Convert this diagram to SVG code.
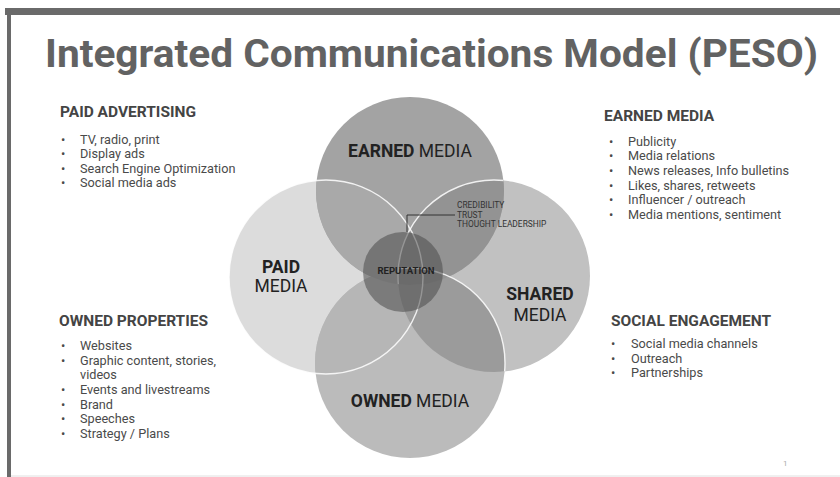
<svg xmlns="http://www.w3.org/2000/svg" width="840" height="477" viewBox="0 0 840 477">
  <style>
    .title { font-family: Roboto, "Liberation Sans", sans-serif; font-weight: 700; font-size: 38px; fill: #626262; }
    .head { font-family: Roboto, "Liberation Sans", sans-serif; font-weight: 700; font-size: 15.5px; fill: #444; }
    .item { font-family: Roboto, "Liberation Sans", sans-serif; font-size: 12.7px; fill: #4a4a4a; }
    .lbl { font-family: Roboto, "Liberation Sans", sans-serif; font-size: 17.5px; fill: #222; }
    .lbl .b { font-weight: 700; }
    .tiny { font-family: Roboto, "Liberation Sans", sans-serif; font-size: 8.4px; fill: #333; }
    .rep { font-family: Roboto, "Liberation Sans", sans-serif; font-size: 9.5px; font-weight: 700; fill: #222; }
    .edge { fill: none; stroke: #fff; stroke-width: 1.4; stroke-opacity: 0.85; }
  </style>
  <defs>
    <clipPath id="cPaid"><circle cx="326" cy="277" r="97"/></clipPath>
    <clipPath id="cShared"><circle cx="494" cy="276" r="96"/></clipPath>
    <clipPath id="cOwned"><circle cx="410" cy="363" r="95"/></clipPath>
    <clipPath id="cEarned"><circle cx="410" cy="191" r="94"/></clipPath>
  </defs>

  <!-- page frame -->
  <rect x="0" y="0" width="840" height="477" fill="#fff"/>
  <rect x="5" y="8" width="835" height="7" fill="#6a6a6a"/>
  <rect x="7" y="8" width="4" height="469" fill="#6a6a6a"/>
  <line x1="11" y1="476" x2="840" y2="476" stroke="#e0e0e0" stroke-width="1"/>

  <text class="title" x="45" y="67" textLength="773" lengthAdjust="spacingAndGlyphs">Integrated Communications Model (PESO)</text>

  <!-- side lists -->
  <g id="paid-advertising">
    <text class="head" x="60" y="117">PAID ADVERTISING</text>
    <g class="item">
      <text x="61" y="144">•</text><text x="80" y="144">TV, radio, print</text>
      <text x="61" y="158">•</text><text x="80" y="158">Display ads</text>
      <text x="61" y="173">•</text><text x="80" y="173">Search Engine Optimization</text>
      <text x="61" y="187">•</text><text x="80" y="187">Social media ads</text>
    </g>
  </g>
  <g id="earned-media-list">
    <text class="head" x="604" y="121">EARNED MEDIA</text>
    <g class="item">
      <text x="609" y="146">•</text><text x="628" y="146">Publicity</text>
      <text x="609" y="160">•</text><text x="628" y="160">Media relations</text>
      <text x="609" y="175">•</text><text x="628" y="175">News releases, Info bulletins</text>
      <text x="609" y="190">•</text><text x="628" y="190">Likes, shares, retweets</text>
      <text x="609" y="204">•</text><text x="628" y="204">Influencer / outreach</text>
      <text x="609" y="219">•</text><text x="628" y="219">Media mentions, sentiment</text>
    </g>
  </g>
  <g id="owned-properties">
    <text class="head" x="59" y="326">OWNED PROPERTIES</text>
    <g class="item">
      <text x="61" y="350">•</text><text x="80" y="350">Websites</text>
      <text x="61" y="365">•</text><text x="80" y="365">Graphic content, stories,</text>
      <text x="80" y="379">videos</text>
      <text x="61" y="394">•</text><text x="80" y="394">Events and livestreams</text>
      <text x="61" y="409">•</text><text x="80" y="409">Brand</text>
      <text x="61" y="423">•</text><text x="80" y="423">Speeches</text>
      <text x="61" y="438">•</text><text x="80" y="438">Strategy / Plans</text>
    </g>
  </g>
  <g id="social-engagement">
    <text class="head" x="611" y="326">SOCIAL ENGAGEMENT</text>
    <g class="item">
      <text x="611" y="348">•</text><text x="631" y="348">Social media channels</text>
      <text x="611" y="363">•</text><text x="631" y="363">Outreach</text>
      <text x="611" y="377">•</text><text x="631" y="377">Partnerships</text>
    </g>
  </g>

  <!-- overlapping media circles -->
  <g id="paid-media"><circle cx="326" cy="277" r="97" fill="#dcdcdc"/></g>
  <g id="owned-media"><circle cx="410" cy="363" r="95" fill="#bbbbbb"/></g>
  <g id="shared-media"><circle cx="494" cy="276" r="96" fill="#c1c1c1"/></g>
  <g id="earned-media"><circle cx="410" cy="191" r="94" fill="#a3a3a3"/></g>

  <!-- overlap shading -->
  <g id="overlaps">
    <circle cx="410" cy="363" r="95" fill="#b6b6b6" clip-path="url(#cPaid)"/>
    <circle cx="494" cy="276" r="96" fill="#9b9b9b" clip-path="url(#cOwned)"/>
    <circle cx="410" cy="191" r="94" fill="#a9a9a9" clip-path="url(#cPaid)"/>
    <circle cx="410" cy="191" r="94" fill="#939393" clip-path="url(#cShared)"/>
  </g>

  <!-- white rims where circles cross -->
  <g id="rims">
    <circle class="edge" cx="326" cy="277" r="97"/>
    <circle class="edge" cx="494" cy="276" r="96" clip-path="url(#cEarned)"/>
    <circle class="edge" cx="410" cy="363" r="95" clip-path="url(#cShared)"/>
  </g>

  <g id="reputation">
    <circle cx="403" cy="272" r="40" fill="#4a4a4a" fill-opacity="0.55"/>
    <text class="rep" x="406" y="274" text-anchor="middle">REPUTATION</text>
  </g>

  <!-- callout -->
  <g id="connectors">
    <polyline points="407,232 407,215 455,215" fill="none" stroke="#333" stroke-width="1"/>
  </g>
  <g id="values">
    <text class="tiny" x="457" y="208">CREDIBILITY</text>
    <text class="tiny" x="457" y="217.5">TRUST</text>
    <text class="tiny" x="457" y="227">THOUGHT LEADERSHIP</text>
  </g>

  <!-- circle labels -->
  <g id="labels">
    <text class="lbl" x="410" y="157" text-anchor="middle"><tspan class="b">EARNED</tspan> MEDIA</text>
    <text class="lbl" x="281" y="273" text-anchor="middle"><tspan class="b">PAID</tspan></text>
    <text class="lbl" x="281" y="292" text-anchor="middle">MEDIA</text>
    <text class="lbl" x="540" y="300" text-anchor="middle"><tspan class="b">SHARED</tspan></text>
    <text class="lbl" x="540" y="321" text-anchor="middle">MEDIA</text>
    <text class="lbl" x="410" y="407" text-anchor="middle"><tspan class="b">OWNED</tspan> MEDIA</text>
  </g>

  <text x="783" y="466" font-family="Roboto, 'Liberation Sans', sans-serif" font-size="8" fill="#aaa">1</text>
</svg>
